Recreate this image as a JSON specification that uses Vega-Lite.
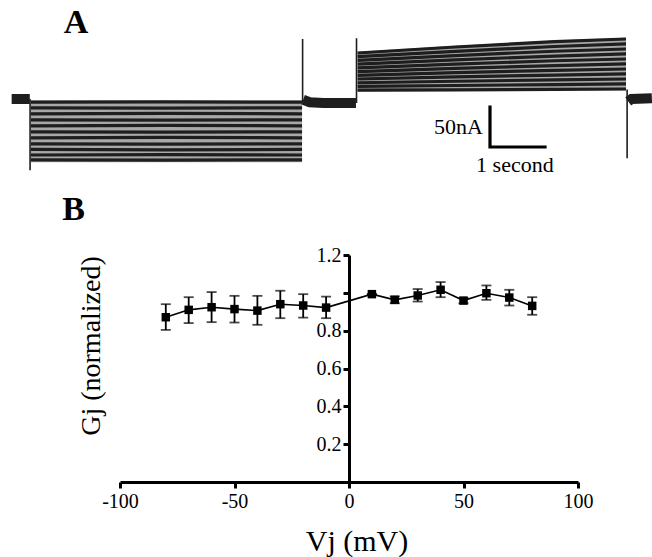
{
  "$schema": "https://vega.github.io/schema/vega-lite/v6.json",
  "width": 458,
  "height": 227,
  "autosize": "none",
  "padding": {"left": 120, "top": 255, "right": 74, "bottom": 75},
  "background": "white",
  "config": {"view": {"stroke": null}},
  "datasets": {
    "gj": [
      {"v": -80, "g": 0.871, "lo": 0.804, "hi": 0.940},
      {"v": -70, "g": 0.910, "lo": 0.840, "hi": 0.977},
      {"v": -60, "g": 0.924, "lo": 0.845, "hi": 1.004},
      {"v": -50, "g": 0.914, "lo": 0.843, "hi": 0.984},
      {"v": -40, "g": 0.906, "lo": 0.831, "hi": 0.984},
      {"v": -30, "g": 0.940, "lo": 0.866, "hi": 1.011},
      {"v": -20, "g": 0.933, "lo": 0.869, "hi": 0.993},
      {"v": -10, "g": 0.922, "lo": 0.866, "hi": 0.980},
      {"v": 10, "g": 0.993, "lo": 0.993, "hi": 0.993},
      {"v": 20, "g": 0.963, "lo": 0.945, "hi": 0.981},
      {"v": 30, "g": 0.986, "lo": 0.954, "hi": 1.020},
      {"v": 40, "g": 1.016, "lo": 0.977, "hi": 1.057},
      {"v": 50, "g": 0.959, "lo": 0.945, "hi": 0.973},
      {"v": 60, "g": 0.998, "lo": 0.963, "hi": 1.039},
      {"v": 70, "g": 0.975, "lo": 0.933, "hi": 1.016},
      {"v": 80, "g": 0.931, "lo": 0.884, "hi": 0.977}
    ],
    "panels": [
      {"lab": "A", "v": -119.2, "g": 2.376},
      {"lab": "B", "v": -120.3, "g": 1.386}
    ],
    "env": [
      {"s": "EL", "t": 0.38, "I": -2, "I2": -79},
      {"s": "EL", "t": 5.31, "I": -2, "I2": -79},
      {"s": "ER", "t": 6.32, "I": 59, "I2": 9.5},
      {"s": "ER", "t": 8.1, "I": 66.5, "I2": 10},
      {"s": "ER", "t": 9.9, "I": 73, "I2": 10.5},
      {"s": "ER", "t": 11.2, "I": 76.5, "I2": 11}
    ],
    "rec": [
      {"k": "base", "s": "B1", "o": 1, "t": 0.03, "I": 0},
      {"k": "base", "s": "B1", "o": 2, "t": 0.36, "I": 0},
      {"k": "base", "s": "B2", "o": 1, "t": 5.33, "I": -1},
      {"k": "base", "s": "B2", "o": 2, "t": 5.45, "I": -4},
      {"k": "base", "s": "B2", "o": 3, "t": 5.7, "I": -5},
      {"k": "base", "s": "B2", "o": 4, "t": 6.29, "I": -5},
      {"k": "base", "s": "B3", "o": 1, "t": 11.24, "I": -3},
      {"k": "base", "s": "B3", "o": 2, "t": 11.3, "I": 0},
      {"k": "base", "s": "B3", "o": 3, "t": 11.67, "I": 1},

      {"k": "spike", "s": "S1", "o": 1, "t": 0.365, "I": 0},
      {"k": "spike", "s": "S1", "o": 2, "t": 0.365, "I": -89},
      {"k": "spike", "s": "S2", "o": 1, "t": 5.32, "I": -4},
      {"k": "spike", "s": "S2", "o": 2, "t": 5.32, "I": 75},
      {"k": "spike", "s": "S3", "o": 1, "t": 6.30, "I": -5},
      {"k": "spike", "s": "S3", "o": 2, "t": 6.30, "I": 76},
      {"k": "spike", "s": "S4", "o": 1, "t": 11.22, "I": 12},
      {"k": "spike", "s": "S4", "o": 2, "t": 11.22, "I": -74},

      {"k": "bar", "s": "SB", "o": 1, "t": 8.727, "I": -10},
      {"k": "bar", "s": "SB", "o": 2, "t": 8.727, "I": -60},
      {"k": "bar", "s": "SB", "o": 3, "t": 9.727, "I": -60},

      {"k": "trace", "s": "L0", "o": 1, "t": 0.38, "I": -4},
      {"k": "trace", "s": "L0", "o": 2, "t": 2.8, "I": -3.5},
      {"k": "trace", "s": "L0", "o": 3, "t": 5.31, "I": -4},
      {"k": "trace", "s": "L1", "o": 1, "t": 0.38, "I": -11},
      {"k": "trace", "s": "L1", "o": 2, "t": 2.8, "I": -11.5},
      {"k": "trace", "s": "L1", "o": 3, "t": 5.31, "I": -11},
      {"k": "trace", "s": "L2", "o": 1, "t": 0.38, "I": -18.5},
      {"k": "trace", "s": "L2", "o": 2, "t": 2.8, "I": -18},
      {"k": "trace", "s": "L2", "o": 3, "t": 5.31, "I": -18.5},
      {"k": "trace", "s": "L3", "o": 1, "t": 0.38, "I": -26},
      {"k": "trace", "s": "L3", "o": 2, "t": 2.8, "I": -26.5},
      {"k": "trace", "s": "L3", "o": 3, "t": 5.31, "I": -26},
      {"k": "trace", "s": "L4", "o": 1, "t": 0.38, "I": -33.5},
      {"k": "trace", "s": "L4", "o": 2, "t": 2.8, "I": -33},
      {"k": "trace", "s": "L4", "o": 3, "t": 5.31, "I": -33.5},
      {"k": "trace", "s": "L5", "o": 1, "t": 0.38, "I": -41},
      {"k": "trace", "s": "L5", "o": 2, "t": 2.8, "I": -41.5},
      {"k": "trace", "s": "L5", "o": 3, "t": 5.31, "I": -41},
      {"k": "trace", "s": "L6", "o": 1, "t": 0.38, "I": -48.5},
      {"k": "trace", "s": "L6", "o": 2, "t": 2.8, "I": -48},
      {"k": "trace", "s": "L6", "o": 3, "t": 5.31, "I": -48.5},
      {"k": "trace", "s": "L7", "o": 1, "t": 0.38, "I": -56},
      {"k": "trace", "s": "L7", "o": 2, "t": 2.8, "I": -56.5},
      {"k": "trace", "s": "L7", "o": 3, "t": 5.31, "I": -56},
      {"k": "trace", "s": "L8", "o": 1, "t": 0.38, "I": -63},
      {"k": "trace", "s": "L8", "o": 2, "t": 2.8, "I": -63.5},
      {"k": "trace", "s": "L8", "o": 3, "t": 5.31, "I": -63},
      {"k": "trace", "s": "L9", "o": 1, "t": 0.38, "I": -70},
      {"k": "trace", "s": "L9", "o": 2, "t": 2.8, "I": -69.5},
      {"k": "trace", "s": "L9", "o": 3, "t": 5.31, "I": -70},
      {"k": "trace", "s": "L10", "o": 1, "t": 0.38, "I": -76},
      {"k": "trace", "s": "L10", "o": 2, "t": 2.8, "I": -76.5},
      {"k": "trace", "s": "L10", "o": 3, "t": 5.31, "I": -76},

      {"k": "trace", "s": "R0", "o": 1, "t": 6.32, "I": 11},
      {"k": "trace", "s": "R0", "o": 2, "t": 8.1, "I": 11.5},
      {"k": "trace", "s": "R0", "o": 3, "t": 9.9, "I": 12},
      {"k": "trace", "s": "R0", "o": 4, "t": 11.2, "I": 12.5},
      {"k": "trace", "s": "R1", "o": 1, "t": 6.32, "I": 15.7},
      {"k": "trace", "s": "R1", "o": 2, "t": 8.1, "I": 16.9},
      {"k": "trace", "s": "R1", "o": 3, "t": 9.9, "I": 18},
      {"k": "trace", "s": "R1", "o": 4, "t": 11.2, "I": 18.8},
      {"k": "trace", "s": "R2", "o": 1, "t": 6.32, "I": 20.3},
      {"k": "trace", "s": "R2", "o": 2, "t": 8.1, "I": 22.2},
      {"k": "trace", "s": "R2", "o": 3, "t": 9.9, "I": 23.9},
      {"k": "trace", "s": "R2", "o": 4, "t": 11.2, "I": 25},
      {"k": "trace", "s": "R3", "o": 1, "t": 6.32, "I": 25},
      {"k": "trace", "s": "R3", "o": 2, "t": 8.1, "I": 27.6},
      {"k": "trace", "s": "R3", "o": 3, "t": 9.9, "I": 29.9},
      {"k": "trace", "s": "R3", "o": 4, "t": 11.2, "I": 31.3},
      {"k": "trace", "s": "R4", "o": 1, "t": 6.32, "I": 29.6},
      {"k": "trace", "s": "R4", "o": 2, "t": 8.1, "I": 32.9},
      {"k": "trace", "s": "R4", "o": 3, "t": 9.9, "I": 35.8},
      {"k": "trace", "s": "R4", "o": 4, "t": 11.2, "I": 37.5},
      {"k": "trace", "s": "R5", "o": 1, "t": 6.32, "I": 34.3},
      {"k": "trace", "s": "R5", "o": 2, "t": 8.1, "I": 38.3},
      {"k": "trace", "s": "R5", "o": 3, "t": 9.9, "I": 41.8},
      {"k": "trace", "s": "R5", "o": 4, "t": 11.2, "I": 43.8},
      {"k": "trace", "s": "R6", "o": 1, "t": 6.32, "I": 38.9},
      {"k": "trace", "s": "R6", "o": 2, "t": 8.1, "I": 43.6},
      {"k": "trace", "s": "R6", "o": 3, "t": 9.9, "I": 47.8},
      {"k": "trace", "s": "R6", "o": 4, "t": 11.2, "I": 50},
      {"k": "trace", "s": "R7", "o": 1, "t": 6.32, "I": 43.6},
      {"k": "trace", "s": "R7", "o": 2, "t": 8.1, "I": 48.9},
      {"k": "trace", "s": "R7", "o": 3, "t": 9.9, "I": 53.7},
      {"k": "trace", "s": "R7", "o": 4, "t": 11.2, "I": 56.3},
      {"k": "trace", "s": "R8", "o": 1, "t": 6.32, "I": 48.2},
      {"k": "trace", "s": "R8", "o": 2, "t": 8.1, "I": 54.3},
      {"k": "trace", "s": "R8", "o": 3, "t": 9.9, "I": 59.7},
      {"k": "trace", "s": "R8", "o": 4, "t": 11.2, "I": 62.5},
      {"k": "trace", "s": "R9", "o": 1, "t": 6.32, "I": 52.9},
      {"k": "trace", "s": "R9", "o": 2, "t": 8.1, "I": 59.6},
      {"k": "trace", "s": "R9", "o": 3, "t": 9.9, "I": 65.6},
      {"k": "trace", "s": "R9", "o": 4, "t": 11.2, "I": 68.8},
      {"k": "trace", "s": "R10", "o": 1, "t": 6.32, "I": 57.5},
      {"k": "trace", "s": "R10", "o": 2, "t": 8.1, "I": 65},
      {"k": "trace", "s": "R10", "o": 3, "t": 9.9, "I": 71.6},
      {"k": "trace", "s": "R10", "o": 4, "t": 11.2, "I": 75}
    ],
    "recText": [
      {"txt": "50nA", "t": 8.155, "I": -35},
      {"txt": "1 second", "t": 9.18, "I": -82.5}
    ]
  },
  "layer": [
    {
      "layer": [
        {
          "data": {"name": "gj"},
          "mark": {"type": "line", "color": "black", "strokeWidth": 1.6},
          "encoding": {
            "x": {
              "field": "v", "type": "quantitative",
              "scale": {"domain": [-100, 100], "nice": false, "zero": false},
              "axis": {
                "values": [-100, -50, 0, 50, 100],
                "labelExpr": "datum.value < 0 ? '-' + abs(datum.value) : '' + datum.value",
                "grid": false,
                "domainColor": "black", "domainWidth": 3,
                "tickColor": "black", "tickWidth": 3, "tickSize": 6,
                "labelFont": "Liberation Serif", "labelFontSize": 20, "labelColor": "black",
                "labelPadding": 3, "labelFlush": false,
                "title": "Vj (mV)",
                "titleFont": "Liberation Serif", "titleFontSize": 30, "titleFontWeight": "normal",
                "titleColor": "black", "titleX": 236.5, "titleY": 68,
                "titleBaseline": "alphabetic", "titleAlign": "center", "titleAnchor": null
              }
            },
            "y": {
              "field": "g", "type": "quantitative",
              "scale": {"domain": [0, 1.2], "nice": false, "zero": false},
              "axis": {
                "values": [0.2, 0.4, 0.6, 0.8, 1.0, 1.2],
                "labelExpr": "datum.value == 1 ? '' : format(datum.value, '.1f')",
                "offset": -229,
                "grid": false,
                "domainColor": "black", "domainWidth": 3,
                "tickColor": "black", "tickWidth": 3, "tickSize": 6,
                "labelFont": "Liberation Serif", "labelFontSize": 20, "labelColor": "black",
                "labelPadding": 2, "labelFlush": false,
                "title": "Gj (normalized)",
                "titleFont": "Liberation Serif", "titleFontSize": 28, "titleFontWeight": "normal",
                "titleColor": "black", "titleX": -250, "titleY": 90.5, "titleAngle": 270,
                "titleBaseline": "alphabetic", "titleAlign": "center", "titleAnchor": null
              }
            }
          }
        },
        {
          "data": {"name": "gj"},
          "mark": {"type": "rule", "color": "black", "strokeWidth": 1.8},
          "encoding": {
            "x": {"field": "v", "type": "quantitative", "scale": {"domain": [-100, 100], "nice": false, "zero": false}},
            "y": {"field": "lo", "type": "quantitative", "scale": {"domain": [0, 1.2], "nice": false, "zero": false}},
            "y2": {"field": "hi"}
          }
        },
        {
          "data": {"name": "gj"},
          "mark": {"type": "tick", "orient": "horizontal", "color": "black", "thickness": 1.8, "size": 10},
          "encoding": {
            "x": {"field": "v", "type": "quantitative", "scale": {"domain": [-100, 100], "nice": false, "zero": false}},
            "y": {"field": "lo", "type": "quantitative", "scale": {"domain": [0, 1.2], "nice": false, "zero": false}}
          }
        },
        {
          "data": {"name": "gj"},
          "mark": {"type": "tick", "orient": "horizontal", "color": "black", "thickness": 1.8, "size": 10},
          "encoding": {
            "x": {"field": "v", "type": "quantitative", "scale": {"domain": [-100, 100], "nice": false, "zero": false}},
            "y": {"field": "hi", "type": "quantitative", "scale": {"domain": [0, 1.2], "nice": false, "zero": false}}
          }
        },
        {
          "data": {"name": "gj"},
          "mark": {"type": "point", "shape": "square", "filled": true, "color": "black", "size": 72, "opacity": 1},
          "encoding": {
            "x": {"field": "v", "type": "quantitative", "scale": {"domain": [-100, 100], "nice": false, "zero": false}},
            "y": {"field": "g", "type": "quantitative", "scale": {"domain": [0, 1.2], "nice": false, "zero": false}}
          }
        },
        {
          "data": {"name": "panels"},
          "mark": {"type": "text", "font": "Liberation Serif", "fontSize": 34, "fontWeight": "bold", "color": "black", "align": "center", "baseline": "alphabetic"},
          "encoding": {
            "x": {"field": "v", "type": "quantitative", "scale": {"domain": [-100, 100], "nice": false, "zero": false}},
            "y": {"field": "g", "type": "quantitative", "scale": {"domain": [0, 1.2], "nice": false, "zero": false}},
            "text": {"field": "lab"}
          }
        }
      ]
    },
    {
      "data": {"name": "rec"},
      "layer": [
        {
          "data": {"name": "env"},
          "mark": {"type": "area", "color": "#a8a8a8", "opacity": 1},
          "encoding": {
            "x": {"field": "t", "type": "quantitative", "scale": {"domain": [2, 10.327], "nice": false, "zero": false}, "axis": null},
            "y": {"field": "I", "type": "quantitative", "scale": {"domain": [-478.75, -195], "nice": false, "zero": false}, "axis": null},
            "y2": {"field": "I2"},
            "detail": {"field": "s"}
          }
        },
        {
          "transform": [{"filter": "datum.k == 'base'"}],
          "mark": {"type": "line", "color": "#1e1e1e", "strokeWidth": 10},
          "encoding": {
            "x": {"field": "t", "type": "quantitative", "scale": {"domain": [2, 10.327], "nice": false, "zero": false}, "axis": null},
            "y": {"field": "I", "type": "quantitative", "scale": {"domain": [-478.75, -195], "nice": false, "zero": false}, "axis": null},
            "detail": {"field": "s"},
            "order": {"field": "o"}
          }
        },
        {
          "transform": [{"filter": "datum.k == 'trace'"}],
          "mark": {"type": "line", "color": "#1e1e1e", "strokeWidth": 3.2},
          "encoding": {
            "x": {"field": "t", "type": "quantitative", "scale": {"domain": [2, 10.327], "nice": false, "zero": false}, "axis": null},
            "y": {"field": "I", "type": "quantitative", "scale": {"domain": [-478.75, -195], "nice": false, "zero": false}, "axis": null},
            "detail": {"field": "s"},
            "order": {"field": "o"}
          }
        },
        {
          "transform": [{"filter": "datum.k == 'spike'"}],
          "mark": {"type": "line", "color": "#1e1e1e", "strokeWidth": 1.6},
          "encoding": {
            "x": {"field": "t", "type": "quantitative", "scale": {"domain": [2, 10.327], "nice": false, "zero": false}, "axis": null},
            "y": {"field": "I", "type": "quantitative", "scale": {"domain": [-478.75, -195], "nice": false, "zero": false}, "axis": null},
            "detail": {"field": "s"},
            "order": {"field": "o"}
          }
        },
        {
          "transform": [{"filter": "datum.k == 'bar'"}],
          "mark": {"type": "line", "color": "black", "strokeWidth": 3.2, "strokeJoin": "miter", "strokeCap": "square"},
          "encoding": {
            "x": {"field": "t", "type": "quantitative", "scale": {"domain": [2, 10.327], "nice": false, "zero": false}, "axis": null},
            "y": {"field": "I", "type": "quantitative", "scale": {"domain": [-478.75, -195], "nice": false, "zero": false}, "axis": null},
            "detail": {"field": "s"},
            "order": {"field": "o"}
          }
        },
        {
          "data": {"name": "recText"},
          "mark": {"type": "text", "font": "Liberation Serif", "fontSize": 22, "color": "black", "align": "center", "baseline": "middle"},
          "encoding": {
            "x": {"field": "t", "type": "quantitative", "scale": {"domain": [2, 10.327], "nice": false, "zero": false}, "axis": null},
            "y": {"field": "I", "type": "quantitative", "scale": {"domain": [-478.75, -195], "nice": false, "zero": false}, "axis": null},
            "text": {"field": "txt"}
          }
        }
      ]
    }
  ],
  "resolve": {"scale": {"x": "independent", "y": "independent"}, "axis": {"x": "independent", "y": "independent"}}
}
